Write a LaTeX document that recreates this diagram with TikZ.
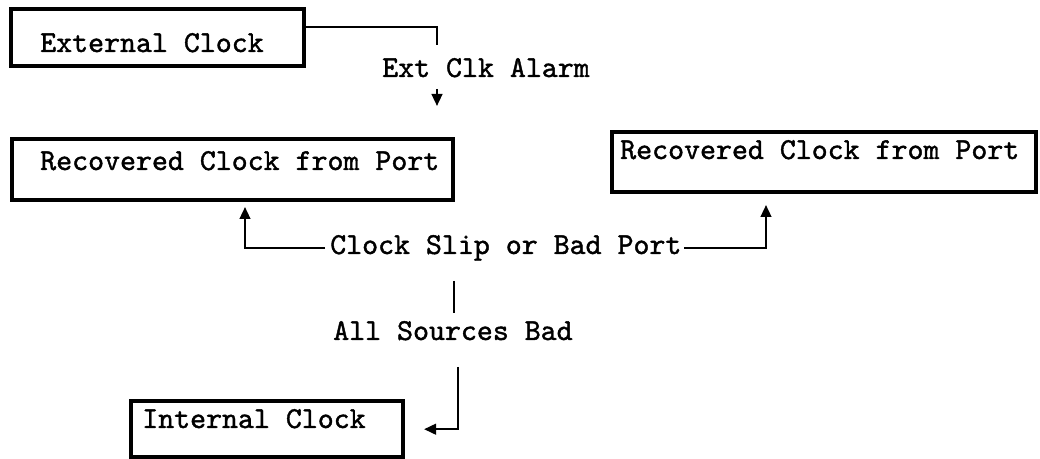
\documentclass[tikz,border=0pt]{standalone}
\usepackage{fontspec}
\newfontfamily\courfont{lmmono10-regular}[Extension=.otf, FakeBold=1.3]
\usetikzlibrary{arrows.meta}
\begin{document}
\begin{tikzpicture}[x=0.75pt,y=-0.75pt,
  box/.style={draw, line width=3.3pt, rectangle, inner sep=0pt, anchor=north west},
  lbl/.style={font=\fontsize{22.8}{26}\selectfont\courfont, inner sep=0pt, anchor=base west},
  conn/.style={line width=1.7pt},
  arr/.style={conn, -{Triangle[length=9pt,width=8pt]}}]
\useasboundingbox[fill=white] (0,0) rectangle (1040,459);
% boxes
\node[box, minimum width=219.75pt, minimum height=42.75pt] (ext) at (9,7) {};
\node[box, minimum width=330.75pt, minimum height=45.75pt] (recL) at (10,137) {};
\node[box, minimum width=318pt, minimum height=45pt] (recR) at (610,130) {};
\node[box, minimum width=204pt, minimum height=42pt] (int) at (129,399) {};
% texts
\node[lbl] (extT) at (40,52) {External Clock};
\node[lbl] (alarm) at (382,77) {Ext Clk Alarm};
\node[lbl] (recLT) at (40,170) {Recovered Clock from Port};
\node[lbl] (recRT) at (620,159) {Recovered Clock from Port};
\node[lbl] (slip) at (330,254) {Clock Slip or Bad Port};
\node[lbl] (all) at (333,340) {All Sources Bad};
\node[lbl] (intT) at (142,428) {Internal Clock};
% helper coordinates
\coordinate (c1) at (437,45);
\coordinate (a1) at (437,89);
\coordinate (a2) at (437,106);
\coordinate (tipL) at (245,207);
\coordinate (tipR) at (766,205);
\coordinate (v1) at (454,281);
\coordinate (v2) at (454,313);
\coordinate (v3) at (458,367);
% connectors
\draw[conn] ([yshift=7.9pt]ext.east) -| (c1);
\draw[arr] (a1) -- (a2);
\draw[arr] ([xshift=-3.75pt]slip.west) -| (tipL);
\draw[arr] ([xshift=2pt]slip.east) -| (tipR);
\draw[conn] (v1) -- (v2);
\draw[arr, shorten >=14pt] (v3) |- (int.east);
\end{tikzpicture}
\end{document}
